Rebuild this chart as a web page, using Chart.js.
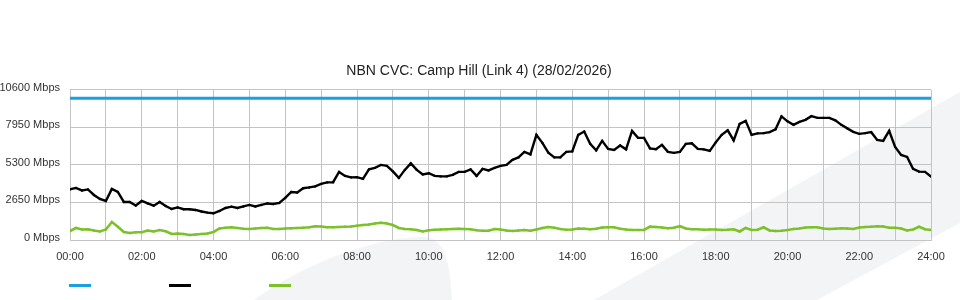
<!DOCTYPE html>
<html>
<head>
<meta charset="utf-8">
<title>NBN CVC: Camp Hill (Link 4)</title>
<script src="https://cdn.jsdelivr.net/npm/chart.js@4.4.1/dist/chart.umd.min.js"></script>
<style>
    html, body { margin: 0; padding: 0; background: #fff; }
    .chart-wrap { position: relative; width: 960px; height: 300px; overflow: hidden; }
    .chart-bg, .chart-wrap canvas { position: absolute; left: 0; top: 0; }
    .chart-legend { position: absolute; left: 0; top: 284px; }
    .chart-legend span { position: absolute; top: 0; width: 22px; height: 3px; }
</style>
</head>
<body>
<div class="chart-wrap">
    <svg class="chart-bg" width="960" height="300">
        <path d="M254,300 C300,266 368,239 418,237 C440,236 449,246 452,300 Z" fill="#f3f4f6"/>
        <path d="M594,300 L960,92 L960,223 L817,300 Z" fill="#f3f4f6"/>
    </svg>
    <canvas id="cvc" width="960" height="300"></canvas>
    <div class="chart-legend" id="legend"></div>
</div>
<script>
const chartTitle = 'NBN CVC: Camp Hill (Link 4) (28/02/2026)';

// minutes since midnight, one sample every 10 minutes
const STEP_MINUTES = 10;
const sampleMinutes = [];
for (let m = 0; m <= 1440; m += STEP_MINUTES) sampleMinutes.push(m);

const capacityMinutes = [0, 1440];
const capacityMbps = [10000, 10000];

const downloadMbps = [
    3583, 3675, 3498, 3569, 3180, 2897, 2756, 3604, 3392, 2685,
    2685, 2438, 2756, 2579, 2424, 2685, 2403, 2191, 2297, 2170,
    2170, 2120, 2014, 1929, 1887, 2049, 2261, 2353, 2261, 2367,
    2473, 2367, 2473, 2579, 2544, 2615, 2968, 3392, 3357, 3654,
    3710, 3781, 3958, 4064, 4078, 4806, 4523, 4417, 4431, 4311,
    4982, 5088, 5300, 5230, 4841, 4382, 4947, 5406, 4947, 4629,
    4714, 4523, 4488, 4488, 4594, 4806, 4806, 4982, 4523, 5018,
    4912, 5088, 5230, 5300, 5654, 5830, 6219, 6042, 7420, 6855,
    6169, 5830, 5830, 6219, 6254, 7420, 7654, 6784, 6325, 6996,
    6431, 6360, 6664, 6396, 7703, 7208, 7208, 6466, 6410, 6714,
    6219, 6148, 6219, 6784, 6820, 6431, 6396, 6290, 6890, 7420,
    7738, 7032, 8198, 8410, 7420, 7526, 7540, 7611, 7809, 8727,
    8374, 8127, 8339, 8480, 8742, 8622, 8622, 8622, 8445, 8127,
    7880, 7632, 7491, 7540, 7611, 7067, 6996, 7703, 6572, 6007,
    5866, 5018, 4827, 4806, 4473,
];

const uploadMbps = [
    636, 848, 742, 756, 671, 601, 742, 1272, 940, 565,
    495, 544, 544, 671, 601, 707, 615, 424, 459, 424,
    353, 389, 424, 459, 565, 813, 869, 898, 848, 799,
    777, 813, 848, 869, 777, 777, 813, 827, 848, 869,
    898, 968, 954, 905, 898, 919, 933, 954, 1003, 1060,
    1095, 1166, 1215, 1166, 1060, 848, 777, 756, 707, 601,
    686, 721, 742, 756, 777, 791, 777, 756, 686, 657,
    657, 777, 742, 671, 636, 671, 707, 657, 742, 848,
    919, 862, 777, 728, 742, 813, 791, 756, 791, 884,
    898, 898, 799, 742, 707, 707, 707, 940, 919, 884,
    827, 862, 975, 813, 756, 756, 728, 742, 742, 707,
    721, 756, 601, 848, 707, 721, 898, 671, 636, 650,
    707, 777, 813, 884, 898, 898, 813, 777, 799, 827,
    813, 777, 884, 919, 940, 968, 954, 869, 869, 813,
    671, 742, 933, 756, 707,
];

const yTicksMbps = [0, 2650, 5300, 7950, 10600];

const toPoints = (xs, ys) => ys.map((y, i) => ({x: xs[i], y: y}));
const hourLabel = (minutes) => String(minutes / 60).padStart(2, '0') + ':00';

Chart.defaults.font.family = "'Liberation Sans', Arial, sans-serif";
Chart.defaults.font.size = 11;
Chart.defaults.color = '#333';

const gridColor = '#c4c4c4';

const chart = new Chart(document.getElementById('cvc'), {
    type: 'line',
    data: {
        datasets: [
            {
                label: 'Capacity',
                data: toPoints(capacityMinutes, capacityMbps),
                borderColor: '#1b9fe2',
                borderWidth: 3,
                pointRadius: 0,
            },
            {
                label: 'Download',
                data: toPoints(sampleMinutes, downloadMbps),
                borderColor: '#000',
                backgroundColor: '#000',
                borderWidth: 2.4,
                pointRadius: 1.2,
                pointBorderWidth: 0,
            },
            {
                label: 'Upload',
                data: toPoints(sampleMinutes, uploadMbps),
                borderColor: '#7cc12a',
                backgroundColor: '#7cc12a',
                borderWidth: 2.6,
                pointRadius: 1.2,
                pointBorderWidth: 0,
            },
        ],
    },
    options: {
        responsive: false,
        animation: false,
        layout: {
            padding: {left: 0, right: 2, top: 0, bottom: 0},
        },
        plugins: {
            legend: {display: false},
            tooltip: {enabled: false},
            title: {
                display: true,
                text: chartTitle,
                color: '#222',
                font: {size: 14, weight: 'normal'},
                padding: {top: 63, bottom: 10},
            },
        },
        scales: {
            x: {
                type: 'linear',
                min: 0,
                max: 1440,
                grid: {color: gridColor, drawTicks: false},
                border: {color: gridColor},
                ticks: {
                    stepSize: 60,
                    autoSkip: false,
                    maxRotation: 0,
                    padding: 10,
                    callback: (v) => (v % 120 === 0 ? hourLabel(v) : ''),
                },
                afterFit: (scale) => {
                    scale.height = 60;
                    scale.paddingRight = 29; // keeps the plot off the right edge, title stays centred on the page
                },
            },
            y: {
                min: yTicksMbps[0],
                max: yTicksMbps[yTicksMbps.length - 1],
                grid: {color: gridColor, drawTicks: false},
                border: {color: gridColor},
                afterBuildTicks: (scale) => {
                    scale.ticks = yTicksMbps.map((v) => ({value: v}));
                },
                ticks: {
                    padding: 10,
                    labelOffset: -2,
                    callback: (v) => v + ' Mbps',
                },
                afterFit: (scale) => { scale.width = 70; },
            },
        },
    },
});

// html legend: swatches only, built from the chart's own legend items
const legendBox = document.getElementById('legend');
Chart.defaults.plugins.legend.labels.generateLabels(chart).forEach((item, i) => {
    const swatch = document.createElement('span');
    swatch.style.left = (69 + i * 100) + 'px';
    swatch.style.background = item.strokeStyle;
    legendBox.appendChild(swatch);
});
</script>
</body>
</html>
